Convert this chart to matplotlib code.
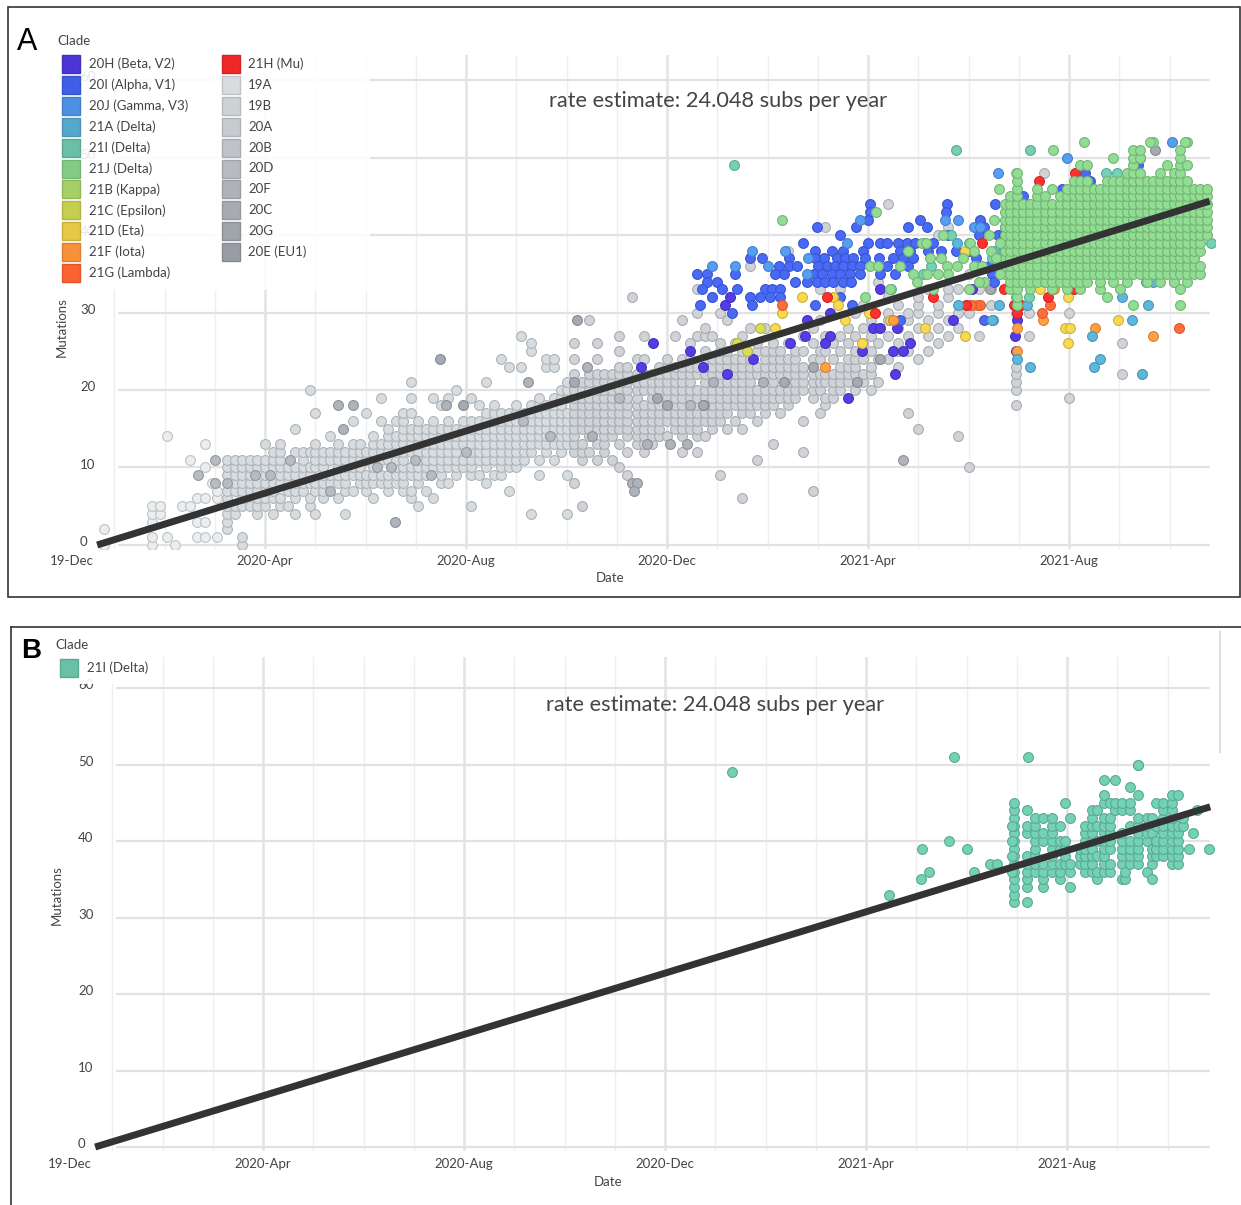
import matplotlib
matplotlib.use('Agg')
import matplotlib.pyplot as plt
import matplotlib.transforms as mtransforms
from matplotlib.patches import Rectangle
from matplotlib.lines import Line2D
import numpy as np

plt.rcParams['font.family'] = ['Lato', 'DejaVu Sans']

W, H = 1241, 1205

# x = months since 2019-12-01, y = mutations
tick_months = [0.16, 4, 8, 12, 16, 20]
tick_labels = ['19-Dec', '2020-Apr', '2020-Aug', '2020-Dec', '2021-Apr', '2021-Aug']
y_ticks = [0, 10, 20, 30, 40, 50, 60]
rate_per_year = 24.048
root_month = 0.66

# gray clades, columns of (month, [mutations])
c19A_cols = [
    (0.80, [0, 2]), (1.75, [0, 1, 3, 4, 5]), (1.92, [4, 5]), (2.05, [1, 14]),
    (2.20, [0]), (2.35, [5]), (2.50, [5, 11]), (2.65, [1, 3, 6]),
    (2.80, [1, 3, 6, 10, 13]), (2.95, [8]), (3.05, [1, 6, 7]),
]
c20A_cols = [
    (3.25, [2, 3, 4, 5, 6, 7, 9, 10, 11]), (3.40, [4, 5, 7, 8, 9, 10, 11]),
    (3.55, [0, 1, 5, 6, 7, 8, 9, 10, 11]), (3.70, [5, 7, 8, 9, 10, 11]),
    (3.85, [4, 5, 6, 7, 8, 10, 11]), (4.00, [5, 6, 7, 8, 9, 10, 11, 13]),
    (4.15, [4, 6, 7, 8, 10, 11, 12]), (4.30, [5, 6, 8, 9, 10, 11, 12, 13]),
    (4.45, [5, 7, 8, 9, 10]), (4.60, [4, 6, 7, 8, 9, 10, 12, 15]),
    (4.75, [7, 8, 9, 10, 11, 12]), (4.90, [5, 6, 8, 9, 10, 12, 20]),
    (5.00, [4, 7, 8, 10, 11, 12, 13, 17]), (5.15, [6, 7, 8, 9, 10, 11, 12]),
    (5.30, [8, 9, 11, 12, 14]), (5.45, [6, 8, 9, 10, 11, 12, 13]),
    (5.60, [4, 7, 8, 9, 10, 11, 12]), (5.75, [7, 9, 10, 11, 12, 13, 16]),
    (5.90, [8, 9, 10, 11, 12, 13]), (6.00, [7, 8, 9, 11, 12, 17]),
    (6.15, [6, 8, 9, 10, 12, 13, 14]), (6.30, [8, 9, 11, 12, 13, 16, 19]),
    (6.45, [7, 8, 9, 11, 12, 13, 14, 15]), (6.60, [8, 9, 10, 11, 12, 13, 14, 16]),
    (6.75, [7, 8, 9, 10, 11, 12, 13, 14, 15, 16, 17]),
    (6.90, [6, 7, 9, 10, 12, 13, 14, 15, 17, 19, 21]),
    (7.05, [5, 8, 9, 10, 11, 12, 13, 14, 15, 16]), (7.20, [7, 9, 10, 11, 12, 13, 14, 15]),
    (7.35, [6, 10, 11, 12, 13, 14, 15, 16, 19]), (7.50, [8, 9, 10, 11, 12, 13, 14, 15, 18]),
    (7.65, [8, 10, 11, 12, 13, 14, 15, 16, 19]), (7.80, [9, 10, 11, 12, 13, 14, 15, 20]),
    (7.95, [10, 11, 13, 14, 15, 16]), (8.10, [5, 9, 10, 11, 12, 13, 14, 15, 16, 19]),
    (8.25, [9, 11, 12, 13, 14, 15, 16, 18]), (8.40, [8, 10, 11, 12, 13, 14, 15, 16, 17, 21]),
    (8.55, [9, 11, 12, 13, 14, 15, 16, 17, 18]), (8.70, [9, 10, 11, 12, 13, 14, 15, 16, 17, 24]),
    (8.85, [7, 10, 11, 12, 13, 14, 15, 16, 17, 23]), (9.00, [10, 11, 12, 13, 14, 15, 16, 17, 18]),
    (9.10, [23, 27]), (9.15, [11, 12, 13, 14, 15, 17]),
    (9.30, [4, 12, 13, 14, 15, 16, 17, 18, 25, 26]), (9.45, [9, 11, 13, 14, 15, 16, 17, 18, 19]),
    (9.60, [12, 13, 14, 15, 16, 17, 18, 23, 24]), (9.75, [11, 13, 14, 15, 16, 17, 18, 19, 23, 24]),
    (9.90, [12, 13, 14, 15, 16, 17, 18, 19, 20]), (10.00, [4, 9, 13, 14, 15, 16, 17, 19, 20, 21]),
]
c20B_cols = [
    (10.15, [8, 12, 13, 14, 15, 16, 17, 18, 19, 20, 22, 24, 26]),
    (10.30, [5, 11, 12, 13, 15, 16, 17, 18, 19, 20, 21]),
    (10.45, [12, 14, 15, 16, 17, 18, 19, 20, 21, 22, 29]),
    (10.60, [11, 13, 15, 16, 17, 18, 19, 20, 21, 22, 24, 26]),
    (10.75, [12, 13, 14, 15, 16, 17, 18, 19, 20, 21, 22]),
    (10.90, [11, 14, 15, 16, 17, 18, 19, 20, 21, 22]),
    (11.05, [10, 13, 15, 16, 17, 18, 20, 21, 22, 23, 25, 27]),
    (11.20, [9, 12, 14, 15, 16, 17, 18, 19, 20, 21, 22, 23]),
    (11.30, [32]),
    (11.40, [13, 14, 15, 16, 17, 18, 19, 20, 21, 22, 24]),
    (11.55, [12, 13, 14, 15, 16, 17, 18, 20, 21, 22, 24, 27]),
    (11.70, [13, 14, 15, 16, 17, 18, 19, 20, 21, 22]),
    (11.85, [14, 15, 16, 17, 18, 20, 21, 22, 23]),
    (12.00, [14, 16, 17, 18, 19, 20, 21, 22, 23, 24]),
    (12.15, [15, 16, 17, 18, 19, 20, 21, 22, 23, 27]),
    (12.30, [12, 14, 15, 16, 17, 18, 19, 20, 21, 22, 23, 24, 29]),
    (12.45, [15, 16, 17, 19, 20, 21, 22, 23, 24, 26]),
    (12.60, [12, 14, 15, 16, 17, 18, 19, 20, 22, 23, 27, 30, 33]),
    (12.75, [14, 16, 17, 19, 20, 21, 22, 23, 24, 25, 27, 28]),
    (12.90, [15, 16, 17, 18, 19, 20, 22, 23, 24, 27, 32]),
    (13.05, [9, 16, 17, 18, 19, 20, 21, 22, 23, 24, 25, 26, 30]),
    (13.20, [15, 17, 18, 19, 20, 21, 22, 23, 24, 25, 29]),
    (13.35, [16, 18, 19, 20, 21, 22, 23, 24, 26]),
    (13.50, [6, 15, 17, 18, 19, 20, 21, 22, 23, 24, 25, 27]),
    (13.65, [17, 18, 19, 20, 21, 22, 23, 24, 28, 36]),
    (13.80, [11, 16, 18, 19, 20, 22, 23, 25, 26]),
    (13.95, [17, 18, 19, 20, 22, 23, 24, 25, 28]),
    (14.10, [13, 18, 19, 20, 21, 22, 23, 24, 25, 26]),
    (14.25, [17, 19, 20, 22, 23, 24, 25]),
    (14.40, [18, 19, 20, 21, 22, 23, 24, 26, 38]),
    (14.55, [19, 20, 21, 22, 23, 24, 25]),
    (14.70, [12, 16, 20, 21, 22, 23, 25, 27]),
    (14.90, [7, 19, 20, 21, 22, 24, 26, 28]),
    (15.05, [17, 20, 21, 22, 24, 25, 29, 33]),
    (15.15, [18, 19, 21, 22, 25, 27, 41]),
    (15.30, [19, 20, 21, 22, 24, 26]),
    (15.45, [20, 21, 22, 23, 25, 27, 33]),
    (15.60, [21, 22, 23, 24, 26, 28, 35]),
    (15.75, [20, 22, 23, 24, 25, 27, 30]),
    (15.90, [21, 22, 24, 26, 28, 31]),
    (16.05, [20, 22, 23, 25, 27, 29]),
    (16.20, [21, 24, 26, 28, 34]),
    (16.40, [24, 27, 29, 30, 32, 44]),
    (16.60, [23, 25, 26, 28, 31]),
    (16.80, [17, 25, 27, 29, 30]),
    (17.00, [15, 24, 28, 30, 31, 32]),
    (17.20, [25, 27, 29, 33]),
    (17.40, [26, 28, 30, 31, 40]),
    (17.60, [27, 29, 32, 33, 41]),
    (17.80, [14, 28, 30, 33]),
    (18.00, [10, 30, 31, 35]),
    (18.20, [27, 31, 33]),
    (18.45, [31, 33]),
    (18.95, [18, 20, 21, 22, 23, 30, 48]),
    (19.20, [27, 30]),
    (19.50, [48]),
    (20.00, [19, 30]),
    (21.05, [22, 26]),
]
pts_20C = [(2.67, 9), (3.0, 11), (3.0, 8), (3.24, 8), (3.8, 9), (4.1, 9), (4.5, 11), (5.3, 7),
           (6.22, 10), (6.5, 10), (6.98, 11), (7.3, 9), (8.0, 12), (9.14, 16), (9.68, 14),
           (11.04, 19), (12.46, 18), (12.73, 18)]
pts_20G = [(5.46, 18), (5.76, 18), (5.56, 15), (6.59, 3), (7.6, 18), (9.24, 21), (10.4, 23),
           (10.5, 14), (11.6, 13), (12.06, 13), (12.4, 13), (11.3, 8), (11.4, 8), (11.35, 7),
           (12.92, 21), (13.92, 21), (16.7, 11)]
pts_20E = [(7.49, 24), (10.2, 29), (14.32, 21), (15.78, 21), (16.24, 24), (14.9, 23), (12.72, 18),
           (18.43, 33), (21.71, 51), (7.95, 18), (10.14, 21), (12.0, 18), (11.8, 19)]

# coloured clades
pts_20H = [(12.45, 25), (12.72, 23), (13.19, 22), (13.72, 24), (14.45, 26), (14.75, 27), (15.15, 26),
           (15.24, 30), (15.25, 27), (15.88, 25), (16.1, 28), (16.24, 28), (16.57, 28), (16.54, 22),
           (16.84, 26), (16.5, 25), (16.7, 25), (15.61, 19), (14.78, 29), (13.25, 32), (13.16, 31),
           (17.7, 29), (18.06, 33), (18.93, 27), (18.95, 25), (18.97, 29), (16.24, 33), (11.48, 23),
           (11.73, 26)]
pts_20I = [(16.04, 44), (16.04, 43), (16.0, 42), (14.98, 41), (15.44, 40), (14.71, 39), (16.0, 39),
           (16.24, 39), (16.37, 39), (16.6, 39), (16.77, 39), (16.94, 39), (14.95, 38), (15.28, 38),
           (15.51, 38), (15.9, 38), (16.64, 38), (16.84, 38), (13.65, 37), (13.89, 37), (14.42, 37),
           (14.95, 37), (15.12, 37), (15.38, 37), (15.55, 37), (15.71, 37), (15.94, 37), (16.21, 37),
           (16.5, 37), (16.7, 37), (16.9, 37), (14.22, 36), (14.42, 36), (14.58, 36), (15.01, 36),
           (15.18, 36), (15.34, 36), (15.51, 36), (15.68, 36), (15.84, 36), (16.37, 36), (16.8, 36),
           (12.6, 35), (12.79, 35), (13.35, 35), (14.15, 35), (14.32, 35), (14.92, 35), (15.08, 35),
           (15.28, 35), (15.44, 35), (15.64, 35), (15.84, 35), (16.24, 35), (16.54, 35), (12.79, 34),
           (13.0, 34), (14.55, 34), (14.78, 34), (14.98, 34), (15.14, 34), (15.3, 34), (15.5, 34),
           (15.66, 34), (12.7, 33), (13.1, 33), (13.39, 33), (13.95, 33), (14.08, 33), (14.25, 33),
           (12.9, 32), (13.65, 32), (13.85, 32), (14.05, 32), (14.25, 32), (15.44, 32), (12.66, 31),
           (13.69, 31), (14.95, 31), (15.68, 31), (13.3, 30), (16.64, 29), (17.57, 44), (18.53, 44),
           (17.04, 42), (18.23, 42), (17.17, 41), (18.3, 41), (18.73, 41), (15.76, 41), (16.8, 41),
           (17.55, 43), (18.4, 36), (18.46, 35), (18.5, 34), (18.3, 29), (17.2, 38), (17.45, 38),
           (17.75, 38), (18.0, 38), (18.15, 37), (17.3, 39), (17.6, 40), (18.2, 40), (18.58, 40),
           (18.7, 40), (19.0, 45), (19.09, 45), (19.86, 46), (20.32, 48), (21.38, 49), (20.42, 47),
           (18.6, 38), (18.6, 37)]
pts_20J = [(13.69, 38), (14.35, 38), (13.35, 36), (14.8, 37), (15.58, 39), (15.84, 42), (14.78, 35),
           (17.53, 42), (17.8, 42), (18.1, 41), (18.23, 41), (19.97, 50), (18.58, 48), (20.52, 45),
           (22.05, 52), (14.0, 36), (12.9, 36)]
pts_21A = [(17.77, 39), (18.53, 38), (18.48, 29), (19.17, 31), (20.62, 24), (18.97, 24), (19.23, 23),
           (20.49, 23), (20.45, 27), (21.25, 29), (21.45, 22), (21.58, 31), (21.05, 32), (21.53, 34),
           (21.68, 34), (22.08, 34), (20.22, 34), (17.8, 31), (18.46, 29), (18.6, 31)]
pts_21B = []
pts_21C = [(13.85, 28), (13.59, 25), (16.44, 29), (13.4, 26)]
pts_21D = [(14.68, 32), (15.31, 32), (14.28, 30), (15.54, 29), (16.01, 30), (17.14, 28), (15.88, 26),
           (17.93, 38), (17.93, 27), (19.42, 33), (19.99, 32), (19.92, 28), (20.02, 28), (19.99, 26),
           (20.98, 29), (14.15, 28), (15.4, 31)]
pts_21F = [(16.5, 29), (19.49, 29), (18.97, 28), (18.97, 25), (20.52, 28), (21.68, 27), (15.15, 23),
           (18.15, 31), (19.7, 33)]
pts_21G = [(14.28, 31), (19.62, 31), (19.46, 30), (22.18, 28), (18.23, 31), (18.05, 31)]
pts_21H = [(15.18, 32), (18.26, 39), (18.7, 33), (20.09, 33), (19.59, 32), (18.96, 30), (18.9, 31),
           (18.9, 40), (19.41, 47), (20.12, 48), (16.14, 30), (17.3, 32), (17.95, 31), (19.05, 31),
           (18.75, 36)]

# 21I (Delta), also shown alone in panel B
c21I_cols = [
    (18.95, [32, 33, 34, 35, 36, 37, 38, 39, 40, 41, 42, 43, 44, 45]), (18.90, [36, 38, 40, 42]),
    (19.21, [32, 34, 35, 36, 37, 38, 41, 42, 44]), (19.37, [36, 37, 38, 39, 40, 41, 42, 43]),
    (19.53, [34, 35, 36, 37, 40, 41, 43]), (19.70, [36, 37, 38, 39, 40, 41, 42, 43]),
    (19.86, [35, 36, 37, 39, 40, 42]), (19.96, [37, 38, 39, 40, 45]), (20.06, [34, 36, 37, 43]),
    (20.26, [37, 38, 39]), (20.36, [36, 37, 38, 39, 40, 41, 42]),
    (20.49, [36, 37, 38, 39, 40, 41, 42, 43, 44]), (20.59, [35, 36, 38, 40, 42, 44]),
    (20.73, [36, 37, 38, 39, 40, 41, 42, 43, 45, 46, 48]), (20.86, [36, 37, 39, 40, 41, 42, 43, 45]),
    (20.96, [44, 45, 48]), (21.09, [35, 37, 38, 39, 40, 41, 44, 45]), (21.16, [35, 36]),
    (21.26, [37, 38, 39, 40, 42, 44, 45, 47]), (21.42, [37, 38, 39, 40, 41, 42, 43, 46, 50]),
    (21.59, [36, 40, 41, 42, 43]), (21.69, [35, 37, 38, 39, 41, 43]), (21.77, [38, 39, 40, 42, 45]),
    (21.91, [38, 39, 40, 41, 42, 43, 44, 45]), (22.09, [37, 38, 39, 40, 41, 42, 43, 44, 45, 46]),
    (22.20, [37, 38, 39, 40, 41, 42, 46]), (22.30, [42, 43]), (22.43, [39]), (22.50, [41]),
    (22.58, [44]),
]
pts_21I = [(16.46, 33), (17.09, 35), (17.25, 36), (17.11, 39), (17.65, 40), (18.0, 39), (18.15, 36),
           (18.47, 37), (18.6, 37), (17.75, 51), (19.22, 51), (21.41, 50), (22.83, 39), (13.33, 49)]

# 21J (Delta) dense block plus scattered points
c21J_cols = [
    (18.73, [35, 36, 37, 38, 39, 40, 41, 42, 43, 44]),
    (18.83, [33, 34, 35, 36, 37, 38, 39, 40, 41, 42, 43, 44, 45]),
    (18.96, [31, 32, 33, 34, 35, 36, 37, 38, 39, 40, 41, 42, 43, 44, 45, 46, 47, 48]),
    (19.09, [34, 35, 36, 37, 38, 39, 40, 41, 42, 43, 44]),
    (19.23, [33, 34, 35, 36, 37, 38, 39, 40, 41, 42, 43, 44]),
    (19.36, [34, 35, 36, 37, 38, 39, 40, 41, 42, 43, 44, 45, 46]),
    (19.52, [34, 35, 36, 37, 38, 39, 40, 41, 42, 43, 44, 45]),
    (19.66, [33, 34, 35, 36, 37, 38, 39, 40, 41, 42, 43, 44, 46]),
    (19.82, [34, 35, 36, 37, 38, 39, 40, 41, 42, 43, 44, 45]),
    (19.96, [33, 34, 35, 36, 37, 38, 39, 40, 41, 42, 43, 44, 45, 46]),
    (20.09, [34, 35, 36, 37, 38, 39, 40, 41, 42, 43, 44, 45, 46, 47]),
    (20.22, [33, 34, 35, 36, 37, 38, 39, 40, 41, 42, 43, 44, 45, 46, 47, 49]),
    (20.35, [34, 35, 36, 37, 38, 39, 40, 41, 42, 43, 44, 45, 46, 47, 49]),
    (20.49, [35, 36, 37, 38, 39, 40, 41, 42, 43, 44, 45, 46]),
    (20.62, [33, 34, 35, 36, 37, 38, 39, 40, 41, 42, 43, 44, 45, 46]),
    (20.75, [32, 35, 36, 37, 38, 39, 40, 41, 42, 43, 44, 45, 46, 47]),
    (20.88, [34, 35, 36, 37, 38, 39, 40, 41, 42, 43, 44, 45, 46, 47, 50]),
    (21.02, [33, 35, 36, 37, 38, 39, 40, 41, 42, 43, 44, 45, 46, 47]),
    (21.15, [34, 35, 36, 37, 38, 39, 40, 41, 42, 43, 44, 45, 46, 47, 48]),
    (21.28, [31, 35, 36, 37, 38, 39, 40, 41, 42, 43, 44, 45, 46, 47, 48, 49, 50, 51]),
    (21.42, [35, 36, 37, 38, 39, 40, 41, 42, 43, 44, 45, 46, 47, 48, 50, 51]),
    (21.55, [34, 35, 36, 37, 38, 39, 40, 41, 42, 43, 44, 45, 46, 47]),
    (21.68, [35, 36, 37, 38, 39, 40, 41, 42, 43, 44, 45, 46, 47, 52]),
    (21.81, [34, 35, 36, 37, 38, 39, 40, 41, 42, 43, 44, 45, 46, 47, 48]),
    (21.95, [35, 36, 37, 38, 39, 40, 41, 42, 43, 44, 45, 46, 47, 49]),
    (22.08, [34, 35, 36, 37, 38, 39, 40, 41, 42, 43, 44, 45, 46, 47, 48]),
    (22.21, [31, 33, 35, 36, 37, 38, 39, 40, 41, 42, 43, 44, 45, 46, 47, 48, 49, 50, 51]),
    (22.34, [34, 35, 36, 37, 38, 39, 40, 41, 42, 43, 44, 45, 46, 47, 49, 52]),
    (22.48, [35, 36, 37, 38, 39, 40, 41, 42, 43, 44, 45, 46]),
    (22.61, [35, 36, 38, 39, 40, 41, 42, 43, 44, 45, 46]),
    (22.74, [40, 41, 42, 43, 44, 45, 46]),
]
pts_21J = [(19.69, 51), (20.29, 52), (21.61, 52), (22.31, 52), (14.28, 42), (16.16, 43), (15.94, 32),
           (16.04, 36), (16.2, 36), (17.07, 39), (17.15, 39), (18.03, 39), (18.63, 39), (17.24, 37),
           (17.45, 37), (17.57, 36), (17.77, 36), (18.1, 36), (18.26, 36), (16.9, 35), (17.17, 35),
           (17.4, 35), (17.6, 35), (18.63, 35), (18.3, 34), (16.44, 33), (16.97, 34), (16.64, 36),
           (17.9, 37), (18.1, 38), (18.4, 40), (18.5, 42), (18.6, 46), (17.5, 40), (16.8, 38),
           (18.2, 34), (17.3, 33), (18.0, 33), (18.45, 38), (18.55, 37)]

clade_colors = {
    '20H': '#4B35D4', '20I': '#405FE6', '20J': '#4C90E2', '21A': '#54A8CC', '21I': '#68C0A6',
    '21J': '#84CC86', '21B': '#A4D066', '21C': '#C6CE4E', '21D': '#E6C846', '21F': '#F7923A',
    '21G': '#FB6232', '21H': '#EE2826', '19A': '#D8DCDF', '19B': '#CDD2D6', '20A': '#C6CBCF',
    '20B': '#BFC3C8', '20D': '#B7BBC1', '20F': '#AFB3B9', '20C': '#A8ACB2', '20G': '#A0A4AB',
    '20E': '#989CA4',
}
legend_col1 = [('20H', '20H (Beta, V2)'), ('20I', '20I (Alpha, V1)'), ('20J', '20J (Gamma, V3)'),
               ('21A', '21A (Delta)'), ('21I', '21I (Delta)'), ('21J', '21J (Delta)'),
               ('21B', '21B (Kappa)'), ('21C', '21C (Epsilon)'), ('21D', '21D (Eta)'),
               ('21F', '21F (Iota)'), ('21G', '21G (Lambda)')]
legend_col2 = [('21H', '21H (Mu)'), ('19A', '19A'), ('19B', '19B'), ('20A', '20A'), ('20B', '20B'),
               ('20D', '20D'), ('20F', '20F'), ('20C', '20C'), ('20G', '20G'), ('20E', '20E (EU1)')]


def expand(cols):
    xs, ys = [], []
    for m, ns in cols:
        for n in ns:
            xs.append(m)
            ys.append(n)
    return xs, ys


def pairs(pts):
    if not pts:
        return [], []
    xs, ys = zip(*pts)
    return list(xs), list(ys)


def rgb(hexc):
    return np.array([int(hexc[i:i + 2], 16) for i in (1, 3, 5)]) / 255.0


def fill_of(c):
    return np.clip(rgb(c) * 1.06 + 0.02, 0, 1)


def edge_of(c):
    return rgb(c) * 0.88


fig = plt.figure(figsize=(W / 100, H / 100), dpi=100)
fig.patch.set_facecolor('white')

TXT = '#444444'


def fpx(x, y):
    return x / W, 1 - y / H


def make_axes(left, right, top, bottom, x0px, mpx, y0px, ypx):
    ax = fig.add_axes([left / W, 1 - bottom / H, (right - left) / W, (bottom - top) / H])
    ax.set_xlim((left - x0px) / mpx, (right - x0px) / mpx)
    ax.set_ylim((y0px - bottom) / ypx, (y0px - top) / ypx)
    ax.axis('off')
    return ax


def draw_grid(ax, x_start, x_end):
    for mo in range(1, 23):
        major = mo % 4 == 0
        ax.axvline(mo, color='#e2e2e2' if major else '#efefef', lw=1.8 if major else 1.0, zorder=0)
    for v in y_ticks:
        ax.hlines(v, x_start, x_end, color='#e2e2e2', lw=1.6, zorder=0)


def draw_ticks(ax, ylab_x, xlab_y):
    tx = mtransforms.blended_transform_factory(ax.transData, fig.transFigure)
    ty = mtransforms.blended_transform_factory(fig.transFigure, ax.transData)
    for m, lab in zip(tick_months, tick_labels):
        ax.text(m, 1 - xlab_y / H, lab, transform=tx, ha='center', va='center',
                fontsize=9.5, color=TXT, clip_on=False)
    for v in y_ticks:
        ax.text(ylab_x / W, v + 0.35, str(v), transform=ty, ha='left', va='center',
                fontsize=9.5, color=TXT, clip_on=False)


def scatter(ax, xs, ys, clade, z):
    if len(xs) == 0:
        return
    c = clade_colors[clade]
    ax.scatter(xs, ys, s=50, facecolors=[fill_of(c)], edgecolors=[edge_of(c)],
               linewidths=0.8, zorder=z)


def reg_line(ax, m_end):
    rate = rate_per_year / 12.0
    ax.plot([root_month, m_end], [0, rate * (m_end - root_month)], color='#333333',
            lw=5, solid_capstyle='butt', zorder=10)


# ---------------- panel A ----------------
axA = make_axes(90, 1215, 55, 549, 64, 50.25, 545, 7.75)
draw_grid(axA, 1.075, 22.8)
draw_ticks(axA, 80, 561)

gray_sets = [('19A', expand(c19A_cols)), ('20A', expand(c20A_cols)), ('20B', expand(c20B_cols)),
             ('20C', pairs(pts_20C)), ('20G', pairs(pts_20G)), ('20E', pairs(pts_20E))]
for i, (cl, (xs, ys)) in enumerate(gray_sets):
    scatter(axA, xs, ys, cl, 2 + i * 0.01)

i21x, i21y = expand(c21I_cols)
p21x, p21y = pairs(pts_21I)
j21x, j21y = expand(c21J_cols)
q21x, q21y = pairs(pts_21J)

col_sets = [('20H', pairs(pts_20H)), ('20I', pairs(pts_20I)), ('20J', pairs(pts_20J)),
            ('21B', pairs(pts_21B)), ('21C', pairs(pts_21C)), ('21D', pairs(pts_21D)),
            ('21F', pairs(pts_21F)), ('21G', pairs(pts_21G)), ('21H', pairs(pts_21H)),
            ('21A', pairs(pts_21A)), ('21I', (i21x + p21x, i21y + p21y)),
            ('21J', (j21x + q21x, j21y + q21y))]
for i, (cl, (xs, ys)) in enumerate(col_sets):
    scatter(axA, xs, ys, cl, 3 + i * 0.01)
reg_line(axA, 22.8)

fig.text(*fpx(718, 101), 'rate estimate: 24.048 subs per year', ha='center', va='center',
         fontsize=15.7, color=TXT)
fig.text(*fpx(610, 578), 'Date', ha='center', va='center', fontsize=9.5, color=TXT)
fig.text(*fpx(62, 327), 'Mutations', ha='center', va='center', rotation=90, fontsize=9.5, color=TXT)

# legend A (semi-opaque box over the upper tick labels, as in the original)
fig.patches.append(Rectangle(fpx(50, 290), 320 / W, 262 / H, transform=fig.transFigure,
                             facecolor='white', edgecolor='none', alpha=0.88, zorder=1))
fig.text(*fpx(57, 41), 'Clade', ha='left', va='center', fontsize=9.5, color=TXT, zorder=3)
for col, (sx, tx) in zip([legend_col1, legend_col2], [(62, 89), (222, 248)]):
    for k, (cl, lab) in enumerate(col):
        cy = 64 + 20.9 * k
        c = clade_colors[cl]
        fig.patches.append(Rectangle(fpx(sx, cy + 9), 18 / W, 18 / H, transform=fig.transFigure,
                                     facecolor=c, edgecolor=edge_of(c), lw=1, zorder=2))
        fig.text(*fpx(tx, cy), lab, ha='left', va='center', fontsize=9.5, color=TXT, zorder=3)

fig.text(*fpx(27, 42), 'A', ha='center', va='center', fontsize=22, color='black',
         family='Liberation Sans')
fig.patches.append(Rectangle(fpx(8, 597), 1232 / W, 590 / H, transform=fig.transFigure,
                             facecolor='none', edgecolor='#333333', lw=1.2, zorder=4))

# ---------------- panel B ----------------
axB = make_axes(88, 1215, 657, 1151, 62, 50.25, 1147, 7.65)
draw_grid(axB, 1.075, 22.85)
draw_ticks(axB, 78, 1164)
scatter(axB, i21x + p21x, i21y + p21y, '21I', 3)
reg_line(axB, 22.85)

fig.text(*fpx(715, 705), 'rate estimate: 24.048 subs per year', ha='center', va='center',
         fontsize=15.7, color=TXT)
fig.text(*fpx(608, 1182), 'Date', ha='center', va='center', fontsize=9.5, color=TXT)
fig.text(*fpx(57, 895), 'Mutations', ha='center', va='center', rotation=90, fontsize=9.5, color=TXT)

fig.patches.append(Rectangle(fpx(50, 684), 105 / W, 54 / H, transform=fig.transFigure,
                             facecolor='white', edgecolor='none', alpha=0.92, zorder=1))
fig.text(*fpx(55, 645), 'Clade', ha='left', va='center', fontsize=9.5, color=TXT, zorder=3)
cB = clade_colors['21I']
fig.patches.append(Rectangle(fpx(60, 677), 18 / W, 18 / H, transform=fig.transFigure,
                             facecolor=cB, edgecolor=edge_of(cB), lw=1, zorder=2))
fig.text(*fpx(87, 668), '21I (Delta)', ha='left', va='center', fontsize=9.5, color=TXT, zorder=3)

fig.text(*fpx(31, 651), 'B', ha='center', va='center', fontsize=20, fontweight='bold',
         color='black', family='Liberation Sans')
fig.add_artist(Line2D([11 / W, 1], [1 - 627 / H, 1 - 627 / H], transform=fig.transFigure,
                      color='#333333', lw=1.2))
fig.add_artist(Line2D([11 / W, 11 / W], [1 - 627 / H, 0], transform=fig.transFigure,
                      color='#333333', lw=1.2))
fig.add_artist(Line2D([1220 / W, 1220 / W], [1 - 632 / H, 1 - 752 / H], transform=fig.transFigure,
                      color='#dddddd', lw=1.5))

fig.savefig('out.png', dpi=100)
